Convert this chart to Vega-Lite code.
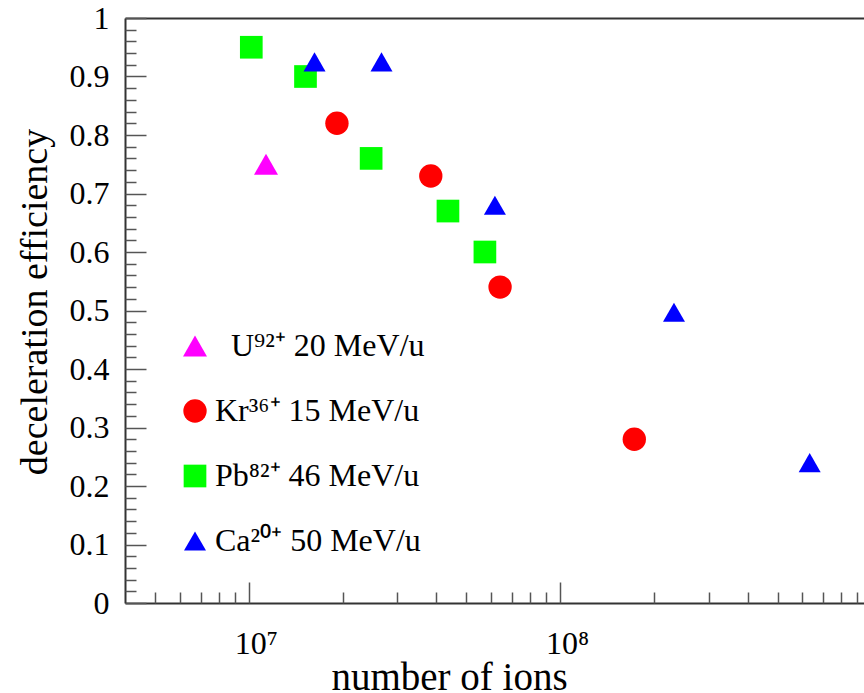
{
  "$schema": "https://vega.github.io/schema/vega-lite/v6.json",
  "width": 739,
  "height": 585,
  "autosize": {"type": "none"},
  "padding": {"left": 125, "top": 18, "right": 0, "bottom": 90},
  "background": "white",
  "config": {
    "view": {"stroke": null},
    "font": "Liberation Serif",
    "axis": {"grid": false, "domainColor": "#333333", "tickColor": "#555555", "labelFont": "Liberation Serif", "titleFont": "Liberation Serif", "labelColor": "black", "titleColor": "black", "titleFontWeight": "normal"}
  },
  "data": {"values": [
    {"ion": "\u200b\u2002U\u2079\u00b2\u207a 20 MeV/u", "n": 11350000, "eff": 0.75},
    {"ion": "Kr\u00b3\u2076\u207a 15 MeV/u", "n": 19180000, "eff": 0.82},
    {"ion": "Kr\u00b3\u2076\u207a 15 MeV/u", "n": 38400000, "eff": 0.73},
    {"ion": "Kr\u00b3\u2076\u207a 15 MeV/u", "n": 64100000, "eff": 0.54},
    {"ion": "Kr\u00b3\u2076\u207a 15 MeV/u", "n": 173000000, "eff": 0.28},
    {"ion": "Pb\u2078\u00b2\u207a 46 MeV/u", "n": 10180000, "eff": 0.95},
    {"ion": "Pb\u2078\u00b2\u207a 46 MeV/u", "n": 15200000, "eff": 0.90},
    {"ion": "Pb\u2078\u00b2\u207a 46 MeV/u", "n": 24700000, "eff": 0.76},
    {"ion": "Pb\u2078\u00b2\u207a 46 MeV/u", "n": 43600000, "eff": 0.67},
    {"ion": "Pb\u2078\u00b2\u207a 46 MeV/u", "n": 57300000, "eff": 0.60},
    {"ion": "Ca\u00b2\u2070\u207a 50 MeV/u", "n": 16250000, "eff": 0.925},
    {"ion": "Ca\u00b2\u2070\u207a 50 MeV/u", "n": 26670000, "eff": 0.925},
    {"ion": "Ca\u00b2\u2070\u207a 50 MeV/u", "n": 61700000, "eff": 0.68},
    {"ion": "Ca\u00b2\u2070\u207a 50 MeV/u", "n": 232000000, "eff": 0.497},
    {"ion": "Ca\u00b2\u2070\u207a 50 MeV/u", "n": 633000000, "eff": 0.24}
  ]},
  "layer": [
    {
      "mark": {"type": "point", "filled": true, "opacity": 1, "strokeWidth": 0},
      "encoding": {
        "x": {"field": "n", "type": "quantitative",
          "scale": {"type": "log", "domain": [4000000, 946000000], "nice": false, "zero": false},
          "axis": {"orient": "bottom", "values": [10000000, 100000000], "ticks": false, "domain": true, "domainWidth": 2,
            "labelExpr": "datum.value < 50000000 ? '10\u2077' : '10\u2078'", "labelFontSize": 32, "labelBaseline": "alphabetic", "labelPadding": 50, "labelOffset": 7,
            "title": "number of ions", "titleFontSize": 39, "titleX": 324, "titleY": 86, "titleAlign": "center", "titleBaseline": "alphabetic", "titleAnchor": null}},
        "y": {"field": "eff", "type": "quantitative",
          "scale": {"domain": [0, 1], "nice": false, "zero": true},
          "axis": {"orient": "left", "values": [0, 0.1, 0.2, 0.3, 0.4, 0.5, 0.6, 0.7, 0.8, 0.9, 1], "ticks": false, "domain": true, "domainWidth": 2,
            "labelExpr": "datum.value == 0 || datum.value == 1 ? format(datum.value, 'd') : format(datum.value, '.1f')",
            "labelFontSize": 32, "labelBaseline": "middle", "labelAlign": "right", "labelPadding": 16,
            "title": "deceleration efficiency", "titleFontSize": 38, "titleAngle": -90, "titleX": -79, "titleY": 283.5, "titleAlign": "center", "titleBaseline": "alphabetic", "titleAnchor": null}},
        "size": {"field": "ion", "type": "nominal", "legend": null,
          "scale": {"domain": ["\u200b\u2002U\u2079\u00b2\u207a 20 MeV/u", "Kr\u00b3\u2076\u207a 15 MeV/u", "Pb\u2078\u00b2\u207a 46 MeV/u", "Ca\u00b2\u2070\u207a 50 MeV/u"], "range": [576, 484, 484, 576]}},
        "color": {"field": "ion", "type": "nominal",
          "scale": {"domain": ["\u200b\u2002U\u2079\u00b2\u207a 20 MeV/u", "Kr\u00b3\u2076\u207a 15 MeV/u", "Pb\u2078\u00b2\u207a 46 MeV/u", "Ca\u00b2\u2070\u207a 50 MeV/u"], "range": ["#ff00ff", "#ff0000", "#00ff00", "#0000ff"]},
          "legend": {"orient": "none", "legendX": 54, "legendY": 312, "title": null, "padding": 0, "symbolSize": 484, "symbolStrokeWidth": 0, "labelFont": "Liberation Serif", "labelFontSize": 32, "labelColor": "black", "labelOffset": 4, "rowPadding": 33, "labelLimit": 400}},
        "shape": {"field": "ion", "type": "nominal",
          "scale": {"domain": ["\u200b\u2002U\u2079\u00b2\u207a 20 MeV/u", "Kr\u00b3\u2076\u207a 15 MeV/u", "Pb\u2078\u00b2\u207a 46 MeV/u", "Ca\u00b2\u2070\u207a 50 MeV/u"], "range": ["triangle-up", "circle", "square", "triangle-up"]},
          "legend": {"orient": "none", "legendX": 54, "legendY": 312, "title": null, "padding": 0, "symbolSize": 484, "symbolStrokeWidth": 0, "labelFont": "Liberation Serif", "labelFontSize": 32, "labelColor": "black", "labelOffset": 4, "rowPadding": 33, "labelLimit": 400}}
      }
    },
    {
      "mark": {"type": "point", "opacity": 0},
      "encoding": {
        "x": {"field": "n", "type": "quantitative", "axis": {"orient": "bottom", "values": [10000000, 100000000], "labels": false, "domain": false, "tickSize": -21, "tickWidth": 1.5, "title": null}},
        "y": {"field": "eff", "type": "quantitative", "axis": {"orient": "left", "values": [0, 0.1, 0.2, 0.3, 0.4, 0.5, 0.6, 0.7, 0.8, 0.9, 1], "labels": false, "domain": false, "tickSize": -21, "tickWidth": 1.5, "title": null}}
      }
    },
    {
      "mark": {"type": "point", "opacity": 0},
      "encoding": {
        "x": {"field": "n", "type": "quantitative", "axis": {"orient": "bottom", "values": [5000000, 6000000, 7000000, 8000000, 9000000, 20000000, 30000000, 40000000, 50000000, 60000000, 70000000, 80000000, 90000000, 200000000, 300000000, 400000000, 500000000, 600000000, 700000000, 800000000, 900000000], "labels": false, "domain": false, "tickSize": -11, "tickWidth": 1.5, "title": null}},
        "y": {"field": "eff", "type": "quantitative", "axis": {"orient": "left", "values": [0.02, 0.04, 0.06, 0.08, 0.12, 0.14, 0.16, 0.18, 0.22, 0.24, 0.26, 0.28, 0.32, 0.34, 0.36, 0.38, 0.42, 0.44, 0.46, 0.48, 0.52, 0.54, 0.56, 0.58, 0.62, 0.64, 0.66, 0.68, 0.72, 0.74, 0.76, 0.78, 0.82, 0.84, 0.86, 0.88, 0.92, 0.94, 0.96, 0.98], "labels": false, "domain": false, "tickSize": -11, "tickWidth": 1.5, "title": null}}
      }
    },
    {
      "mark": {"type": "point", "opacity": 0},
      "encoding": {
        "x": {"field": "n", "type": "quantitative", "axis": {"orient": "top", "labels": false, "ticks": false, "domain": true, "domainWidth": 2, "title": null}},
        "y": {"field": "eff", "type": "quantitative", "axis": null}
      }
    }
  ],
  "resolve": {"scale": {"x": "shared", "y": "shared"}, "axis": {"x": "independent", "y": "independent"}}
}
